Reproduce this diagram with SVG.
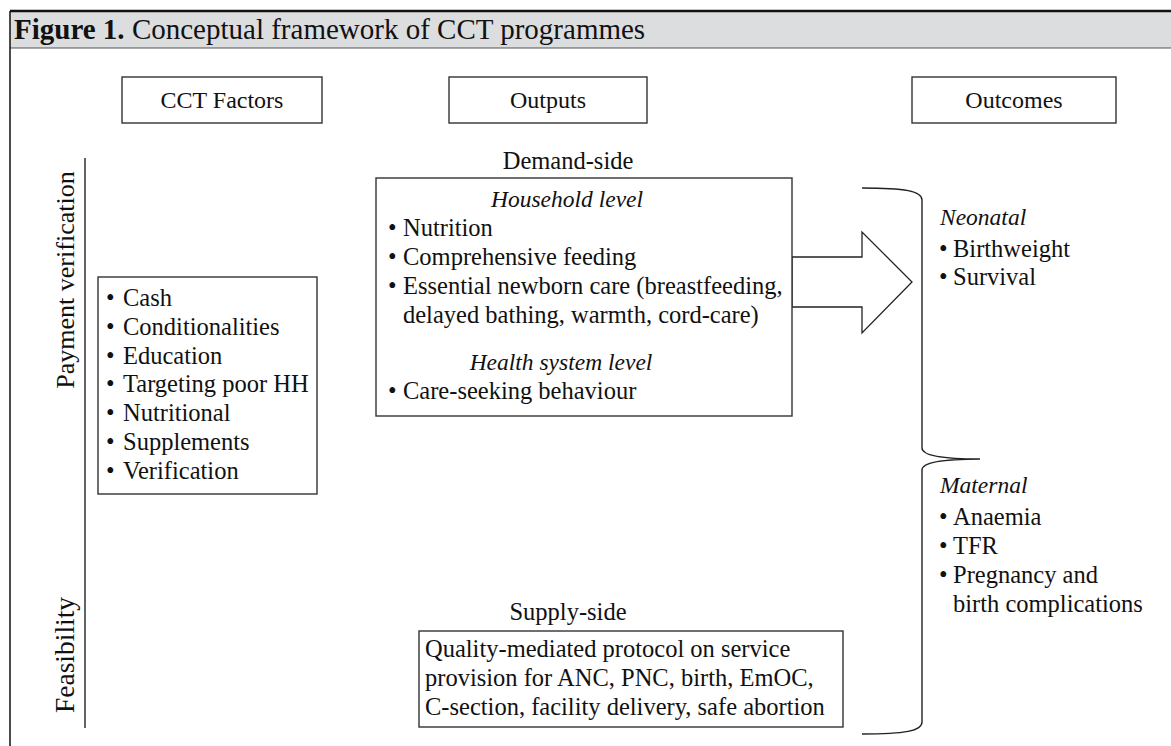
<svg xmlns="http://www.w3.org/2000/svg" width="1171" height="746" viewBox="0 0 1171 746">
<style>
text{font-family:"Liberation Serif",serif;fill:#111;font-size:24.5px}
.box{fill:#fff;stroke:#333;stroke-width:1.4}
.ln{fill:none;stroke:#222;stroke-width:1.4}
.it{font-style:italic;font-size:23.5px}
.c{text-anchor:middle}
.hd{font-size:24px}
.ttl{font-size:29px}
.pv{font-size:26px}
.fe{font-size:27.5px}
</style>
<rect width="1171" height="746" fill="#fff"/>
<g id="title">
<rect x="10" y="11" width="1161" height="37" fill="#dcdddf"/>
<line x1="10" y1="11" x2="1171" y2="11" stroke="#111" stroke-width="2.5"/>
<line x1="10" y1="48" x2="1171" y2="48" stroke="#555" stroke-width="1.2"/>
<line x1="10" y1="11" x2="10" y2="746" stroke="#111" stroke-width="1.5"/>
<text class="ttl" x="14" y="39"><tspan font-weight="bold">Figure 1.</tspan> Conceptual framework of CCT programmes</text>
</g>
<g id="hdr-cct"><rect class="box" x="122" y="77" width="200" height="46"/><text class="c hd" x="222" y="108">CCT Factors</text></g>
<g id="hdr-outputs"><rect class="box" x="449" y="77" width="198" height="46"/><text class="c hd" x="548" y="108">Outputs</text></g>
<g id="hdr-outcomes"><rect class="box" x="912" y="77" width="204" height="46"/><text class="c hd" x="1014" y="108">Outcomes</text></g>
<g id="side-labels">
<line class="ln" x1="85" y1="158" x2="85" y2="728"/>
<text class="c pv" transform="translate(74,280) rotate(-90)">Payment verification</text>
<text class="c fe" transform="translate(74,655) rotate(-90)">Feasibility</text>
</g>
<g id="cct-factors">
<rect class="box" x="98" y="277" width="219" height="217"/>
<text x="106" y="306">•<tspan x="123">Cash</tspan></text>
<text x="106" y="335">•<tspan x="123">Conditionalities</tspan></text>
<text x="106" y="364">•<tspan x="123">Education</tspan></text>
<text x="106" y="392">•<tspan x="123">Targeting poor HH</tspan></text>
<text x="106" y="421">•<tspan x="123">Nutritional</tspan></text>
<text x="106" y="450">•<tspan x="123">Supplements</tspan></text>
<text x="106" y="479">•<tspan x="123">Verification</tspan></text>
</g>
<g id="connectors">
<polygon points="792,257 862,257 862,232 912,282 862,333 862,307 792,307" fill="#fff" stroke="#222" stroke-width="1.3"/>
<path class="ln" d="M862,188 C905,188 922,191 922,200 L922,448 C922,456 945,459 980,459 C945,459 922,462 922,470 L922,722 C922,731 905,734 862,734"/>
</g>
<g id="demand">
<text class="c" x="568" y="169">Demand-side</text>
<rect class="box" x="376" y="178" width="416" height="238"/>
<text class="c it" x="567" y="207">Household level</text>
<text x="388" y="236">•<tspan x="403">Nutrition</tspan></text>
<text x="388" y="265">•<tspan x="403">Comprehensive feeding</tspan></text>
<text x="388" y="294">•<tspan x="403">Essential newborn care (breastfeeding,</tspan></text>
<text x="403" y="323">delayed bathing, warmth, cord-care)</text>
<text class="c it" x="561" y="370">Health system level</text>
<text x="388" y="399">•<tspan x="403">Care-seeking behaviour</tspan></text>
</g>
<g id="supply">
<text class="c" x="568" y="620">Supply-side</text>
<rect class="box" x="419" y="631" width="424" height="96"/>
<text x="425" y="657">Quality-mediated protocol on service</text>
<text x="425" y="686">provision for ANC, PNC, birth, EmOC,</text>
<text x="425" y="715">C-section, facility delivery, safe abortion</text>
</g>
<g id="outcomes">
<text class="it" x="940" y="225">Neonatal</text>
<text x="939" y="257">•<tspan x="953">Birthweight</tspan></text>
<text x="939" y="285">•<tspan x="953">Survival</tspan></text>
<text class="it" x="940" y="493">Maternal</text>
<text x="939" y="525">•<tspan x="953">Anaemia</tspan></text>
<text x="939" y="554">•<tspan x="953">TFR</tspan></text>
<text x="939" y="583">•<tspan x="953">Pregnancy and</tspan></text>
<text x="953" y="612">birth complications</text>
</g>
</svg>
